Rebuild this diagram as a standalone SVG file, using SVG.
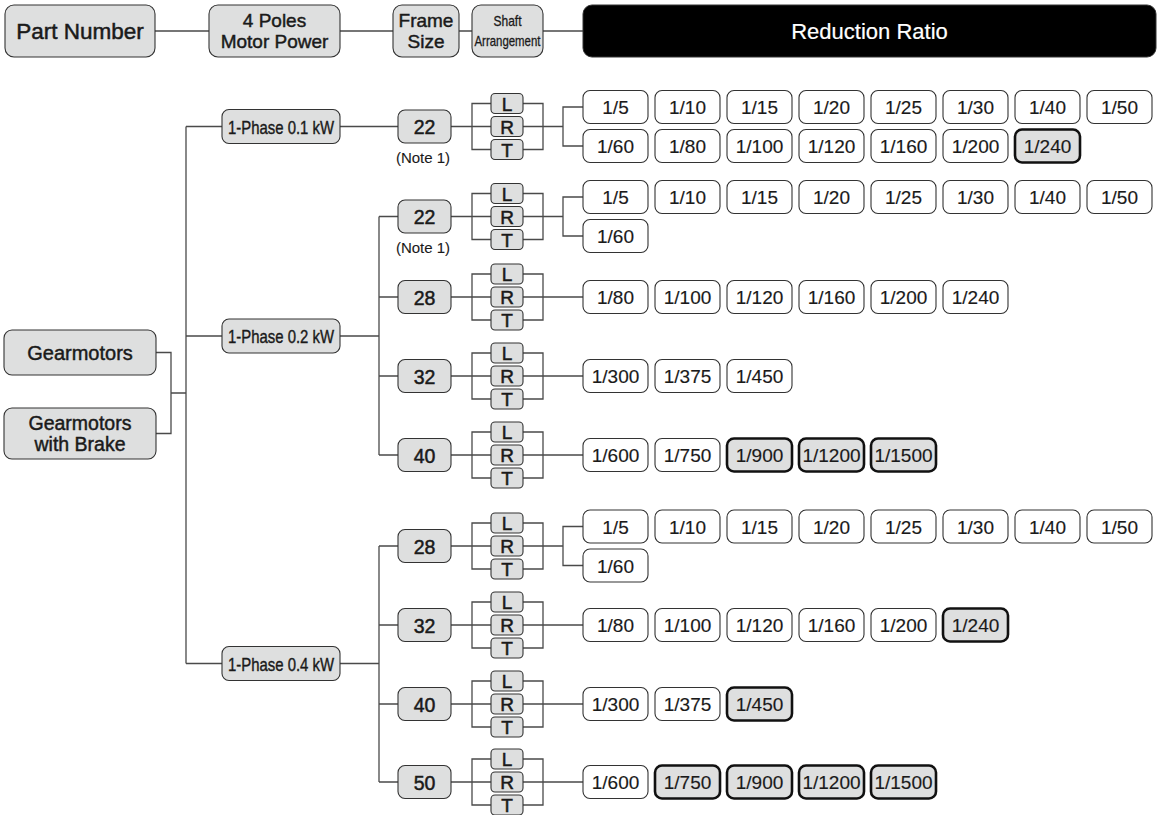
<svg xmlns="http://www.w3.org/2000/svg" xmlns:xlink="http://www.w3.org/1999/xlink" width="1161" height="815" viewBox="0 0 1161 815">
<style>
text{font-family:"Liberation Sans",Arial,sans-serif;fill:#1a1a1a;stroke:#1a1a1a;stroke-width:0.3px;text-anchor:middle;dominant-baseline:central}
.n{fill:#dedfdf;stroke:#333;stroke-width:1.1}
.r{fill:#fff;stroke:#333;stroke-width:1.1}
.h{fill:#dedfdf;stroke:#111;stroke-width:2.6}
.c{fill:none;stroke:#4a4a4a;stroke-width:1.3}
.t19 text{font-size:19px;stroke-width:0.15px}
.fr{font-size:19.5px;stroke-width:0.5px}
.ph{font-size:19px;stroke-width:0.4px}
.lrt{font-size:19px;stroke-width:0.5px}
.hd{font-size:19px;stroke-width:0.45px}
</style>
<defs>
<g id="lrt">
<rect class="n" x="491" y="-33" width="32" height="20" rx="4"/>
<rect class="n" x="491" y="-10" width="32" height="20" rx="4"/>
<rect class="n" x="491" y="13" width="32" height="20" rx="4"/>
<text class="lrt" x="507" y="-22.5">L</text>
<text class="lrt" x="507" y="0.5">R</text>
<text class="lrt" x="507" y="23.5">T</text>
</g>
</defs>
<rect width="1161" height="815" fill="#fff"/>
<g id="connectors" class="c">
<path d="M155 31H209M340 31H393M459 31H472M543 31H583"/>
<path d="M156 352.5H171V433.5H156M171 393H186M186 126.5V663.5M186 126.5H222M186 336H222M186 663.5H222"/>
<path d="M340 126.5H398"/>
<path d="M340 336H379M379 216.5V455M379 216.5H398M379 297H398M379 376H398M379 455H398"/>
<path d="M340 663.5H379M379 546V782M379 546H398M379 625H398M379 704H398M379 782H398"/>
<path d="M451 126.5H563M491 103.5H472V149.5H491M523 103.5H543V149.5H523M583 107H563V146H583"/>
<path d="M451 216.5H563M491 193.5H472V239.5H491M523 193.5H543V239.5H523M583 197H563V236H583"/>
<path d="M451 297H583M491 274H472V320H491M523 274H543V320H523"/>
<path d="M451 376H583M491 353H472V399H491M523 353H543V399H523"/>
<path d="M451 455H583M491 432H472V478H491M523 432H543V478H523"/>
<path d="M451 546H563M491 523H472V569H491M523 523H543V569H523M583 526.5H563V565.5H583"/>
<path d="M451 625H583M491 602H472V648H491M523 602H543V648H523"/>
<path d="M451 704H583M491 681H472V727H491M523 681H543V727H523"/>
<path d="M451 782H583M491 759H472V805H491M523 759H543V805H523"/>
</g>
<g id="header">
<g id="h-part"><rect class="n" x="5" y="5" width="150" height="52" rx="9"/><text x="80" y="31.5" style="font-size:22.5px;stroke-width:0.5px">Part Number</text></g>
<g id="h-power"><rect class="n" x="209" y="5" width="131" height="52" rx="9"/><text class="hd" x="274.5" y="20.5">4 Poles</text><text class="hd" x="274.5" y="41">Motor Power</text></g>
<g id="h-frame"><rect class="n" x="393" y="5" width="66" height="52" rx="9"/><text class="hd" x="426" y="20.5">Frame</text><text class="hd" x="426" y="41">Size</text></g>
<g id="h-shaft"><rect class="n" x="472" y="5" width="71" height="52" rx="9"/><text x="507.5" y="21" style="font-size:14.5px" textLength="28" lengthAdjust="spacingAndGlyphs">Shaft</text><text x="507.5" y="40.5" style="font-size:14.5px" textLength="66" lengthAdjust="spacingAndGlyphs">Arrangement</text></g>
<g id="h-ratio"><rect x="583" y="5" width="573" height="52" rx="9" fill="#000" stroke="#333"/><text x="869.5" y="31.5" style="font-size:22px;fill:#fff;stroke:#fff;stroke-width:0.2px">Reduction Ratio</text></g>
</g>
<g id="gearmotors"><rect class="n" x="4" y="330" width="152" height="45" rx="8"/><text x="80" y="353" style="font-size:20px;stroke-width:0.45px">Gearmotors</text></g>
<g id="gearmotors-brake"><rect class="n" x="4" y="408" width="152" height="51" rx="8"/><text x="80" y="423" style="font-size:19.5px;stroke-width:0.45px">Gearmotors</text><text x="80" y="444" style="font-size:19.5px;stroke-width:0.45px">with Brake</text></g>
<g id="p01"><rect class="n" x="222" y="109.5" width="118" height="34" rx="7"/><text class="ph" x="281" y="127" textLength="106" lengthAdjust="spacingAndGlyphs">1-Phase 0.1 kW</text></g>
<g id="p02"><rect class="n" x="222" y="319" width="118" height="34" rx="7"/><text class="ph" x="281" y="336.5" textLength="106" lengthAdjust="spacingAndGlyphs">1-Phase 0.2 kW</text></g>
<g id="p04"><rect class="n" x="222" y="646.5" width="118" height="34" rx="7"/><text class="ph" x="281" y="664" textLength="106" lengthAdjust="spacingAndGlyphs">1-Phase 0.4 kW</text></g>
<g id="fA"><rect class="n" x="398" y="110" width="53" height="33" rx="7"/><text class="fr" x="424.5" y="127">22</text><text x="423" y="157" style="font-size:15px;stroke-width:0.1px">(Note 1)</text><use xlink:href="#lrt" y="126.5"/></g>
<g id="fB"><rect class="n" x="398" y="200" width="53" height="33" rx="7"/><text class="fr" x="424.5" y="217">22</text><text x="423" y="247" style="font-size:15px;stroke-width:0.1px">(Note 1)</text><use xlink:href="#lrt" y="216.5"/></g>
<g id="fC"><rect class="n" x="398" y="280.5" width="53" height="33" rx="7"/><text class="fr" x="424.5" y="297.5">28</text><use xlink:href="#lrt" y="297"/></g>
<g id="fD"><rect class="n" x="398" y="359.5" width="53" height="33" rx="7"/><text class="fr" x="424.5" y="376.5">32</text><use xlink:href="#lrt" y="376"/></g>
<g id="fE"><rect class="n" x="398" y="438.5" width="53" height="33" rx="7"/><text class="fr" x="424.5" y="455.5">40</text><use xlink:href="#lrt" y="455"/></g>
<g id="fF"><rect class="n" x="398" y="529.5" width="53" height="33" rx="7"/><text class="fr" x="424.5" y="546.5">28</text><use xlink:href="#lrt" y="546"/></g>
<g id="fG"><rect class="n" x="398" y="608.5" width="53" height="33" rx="7"/><text class="fr" x="424.5" y="625.5">32</text><use xlink:href="#lrt" y="625"/></g>
<g id="fH"><rect class="n" x="398" y="687.5" width="53" height="33" rx="7"/><text class="fr" x="424.5" y="704.5">40</text><use xlink:href="#lrt" y="704"/></g>
<g id="fI"><rect class="n" x="398" y="765.5" width="53" height="33" rx="7"/><text class="fr" x="424.5" y="782.5">50</text><use xlink:href="#lrt" y="782"/></g>
<g id="ratiosA" class="t19">
<rect class="r" x="583" y="90.5" width="65" height="33" rx="7"/><text x="615.5" y="107.5">1/5</text>
<rect class="r" x="655" y="90.5" width="65" height="33" rx="7"/><text x="687.5" y="107.5">1/10</text>
<rect class="r" x="727" y="90.5" width="65" height="33" rx="7"/><text x="759.5" y="107.5">1/15</text>
<rect class="r" x="799" y="90.5" width="65" height="33" rx="7"/><text x="831.5" y="107.5">1/20</text>
<rect class="r" x="871" y="90.5" width="65" height="33" rx="7"/><text x="903.5" y="107.5">1/25</text>
<rect class="r" x="943" y="90.5" width="65" height="33" rx="7"/><text x="975.5" y="107.5">1/30</text>
<rect class="r" x="1015" y="90.5" width="65" height="33" rx="7"/><text x="1047.5" y="107.5">1/40</text>
<rect class="r" x="1087" y="90.5" width="65" height="33" rx="7"/><text x="1119.5" y="107.5">1/50</text>
<rect class="r" x="583" y="129.5" width="65" height="33" rx="7"/><text x="615.5" y="146.5">1/60</text>
<rect class="r" x="655" y="129.5" width="65" height="33" rx="7"/><text x="687.5" y="146.5">1/80</text>
<rect class="r" x="727" y="129.5" width="65" height="33" rx="7"/><text x="759.5" y="146.5">1/100</text>
<rect class="r" x="799" y="129.5" width="65" height="33" rx="7"/><text x="831.5" y="146.5">1/120</text>
<rect class="r" x="871" y="129.5" width="65" height="33" rx="7"/><text x="903.5" y="146.5">1/160</text>
<rect class="r" x="943" y="129.5" width="65" height="33" rx="7"/><text x="975.5" y="146.5">1/200</text>
<rect class="h" x="1015" y="129.5" width="65" height="33" rx="7"/><text x="1047.5" y="146.5">1/240</text>
</g>
<g id="ratiosB" class="t19">
<rect class="r" x="583" y="180.5" width="65" height="33" rx="7"/><text x="615.5" y="197.5">1/5</text>
<rect class="r" x="655" y="180.5" width="65" height="33" rx="7"/><text x="687.5" y="197.5">1/10</text>
<rect class="r" x="727" y="180.5" width="65" height="33" rx="7"/><text x="759.5" y="197.5">1/15</text>
<rect class="r" x="799" y="180.5" width="65" height="33" rx="7"/><text x="831.5" y="197.5">1/20</text>
<rect class="r" x="871" y="180.5" width="65" height="33" rx="7"/><text x="903.5" y="197.5">1/25</text>
<rect class="r" x="943" y="180.5" width="65" height="33" rx="7"/><text x="975.5" y="197.5">1/30</text>
<rect class="r" x="1015" y="180.5" width="65" height="33" rx="7"/><text x="1047.5" y="197.5">1/40</text>
<rect class="r" x="1087" y="180.5" width="65" height="33" rx="7"/><text x="1119.5" y="197.5">1/50</text>
<rect class="r" x="583" y="219.5" width="65" height="33" rx="7"/><text x="615.5" y="236.5">1/60</text>
</g>
<g id="ratiosC" class="t19">
<rect class="r" x="583" y="280.5" width="65" height="33" rx="7"/><text x="615.5" y="297.5">1/80</text>
<rect class="r" x="655" y="280.5" width="65" height="33" rx="7"/><text x="687.5" y="297.5">1/100</text>
<rect class="r" x="727" y="280.5" width="65" height="33" rx="7"/><text x="759.5" y="297.5">1/120</text>
<rect class="r" x="799" y="280.5" width="65" height="33" rx="7"/><text x="831.5" y="297.5">1/160</text>
<rect class="r" x="871" y="280.5" width="65" height="33" rx="7"/><text x="903.5" y="297.5">1/200</text>
<rect class="r" x="943" y="280.5" width="65" height="33" rx="7"/><text x="975.5" y="297.5">1/240</text>
</g>
<g id="ratiosD" class="t19">
<rect class="r" x="583" y="359.5" width="65" height="33" rx="7"/><text x="615.5" y="376.5">1/300</text>
<rect class="r" x="655" y="359.5" width="65" height="33" rx="7"/><text x="687.5" y="376.5">1/375</text>
<rect class="r" x="727" y="359.5" width="65" height="33" rx="7"/><text x="759.5" y="376.5">1/450</text>
</g>
<g id="ratiosE" class="t19">
<rect class="r" x="583" y="438.5" width="65" height="33" rx="7"/><text x="615.5" y="455.5">1/600</text>
<rect class="r" x="655" y="438.5" width="65" height="33" rx="7"/><text x="687.5" y="455.5">1/750</text>
<rect class="h" x="727" y="438.5" width="65" height="33" rx="7"/><text x="759.5" y="455.5">1/900</text>
<rect class="h" x="799" y="438.5" width="65" height="33" rx="7"/><text x="831.5" y="455.5">1/1200</text>
<rect class="h" x="871" y="438.5" width="65" height="33" rx="7"/><text x="903.5" y="455.5">1/1500</text>
</g>
<g id="ratiosF" class="t19">
<rect class="r" x="583" y="510" width="65" height="33" rx="7"/><text x="615.5" y="527">1/5</text>
<rect class="r" x="655" y="510" width="65" height="33" rx="7"/><text x="687.5" y="527">1/10</text>
<rect class="r" x="727" y="510" width="65" height="33" rx="7"/><text x="759.5" y="527">1/15</text>
<rect class="r" x="799" y="510" width="65" height="33" rx="7"/><text x="831.5" y="527">1/20</text>
<rect class="r" x="871" y="510" width="65" height="33" rx="7"/><text x="903.5" y="527">1/25</text>
<rect class="r" x="943" y="510" width="65" height="33" rx="7"/><text x="975.5" y="527">1/30</text>
<rect class="r" x="1015" y="510" width="65" height="33" rx="7"/><text x="1047.5" y="527">1/40</text>
<rect class="r" x="1087" y="510" width="65" height="33" rx="7"/><text x="1119.5" y="527">1/50</text>
<rect class="r" x="583" y="549" width="65" height="33" rx="7"/><text x="615.5" y="566">1/60</text>
</g>
<g id="ratiosG" class="t19">
<rect class="r" x="583" y="608.5" width="65" height="33" rx="7"/><text x="615.5" y="625.5">1/80</text>
<rect class="r" x="655" y="608.5" width="65" height="33" rx="7"/><text x="687.5" y="625.5">1/100</text>
<rect class="r" x="727" y="608.5" width="65" height="33" rx="7"/><text x="759.5" y="625.5">1/120</text>
<rect class="r" x="799" y="608.5" width="65" height="33" rx="7"/><text x="831.5" y="625.5">1/160</text>
<rect class="r" x="871" y="608.5" width="65" height="33" rx="7"/><text x="903.5" y="625.5">1/200</text>
<rect class="h" x="943" y="608.5" width="65" height="33" rx="7"/><text x="975.5" y="625.5">1/240</text>
</g>
<g id="ratiosH" class="t19">
<rect class="r" x="583" y="687.5" width="65" height="33" rx="7"/><text x="615.5" y="704.5">1/300</text>
<rect class="r" x="655" y="687.5" width="65" height="33" rx="7"/><text x="687.5" y="704.5">1/375</text>
<rect class="h" x="727" y="687.5" width="65" height="33" rx="7"/><text x="759.5" y="704.5">1/450</text>
</g>
<g id="ratiosI" class="t19">
<rect class="r" x="583" y="765.5" width="65" height="33" rx="7"/><text x="615.5" y="782.5">1/600</text>
<rect class="h" x="655" y="765.5" width="65" height="33" rx="7"/><text x="687.5" y="782.5">1/750</text>
<rect class="h" x="727" y="765.5" width="65" height="33" rx="7"/><text x="759.5" y="782.5">1/900</text>
<rect class="h" x="799" y="765.5" width="65" height="33" rx="7"/><text x="831.5" y="782.5">1/1200</text>
<rect class="h" x="871" y="765.5" width="65" height="33" rx="7"/><text x="903.5" y="782.5">1/1500</text>
</g>
</svg>
